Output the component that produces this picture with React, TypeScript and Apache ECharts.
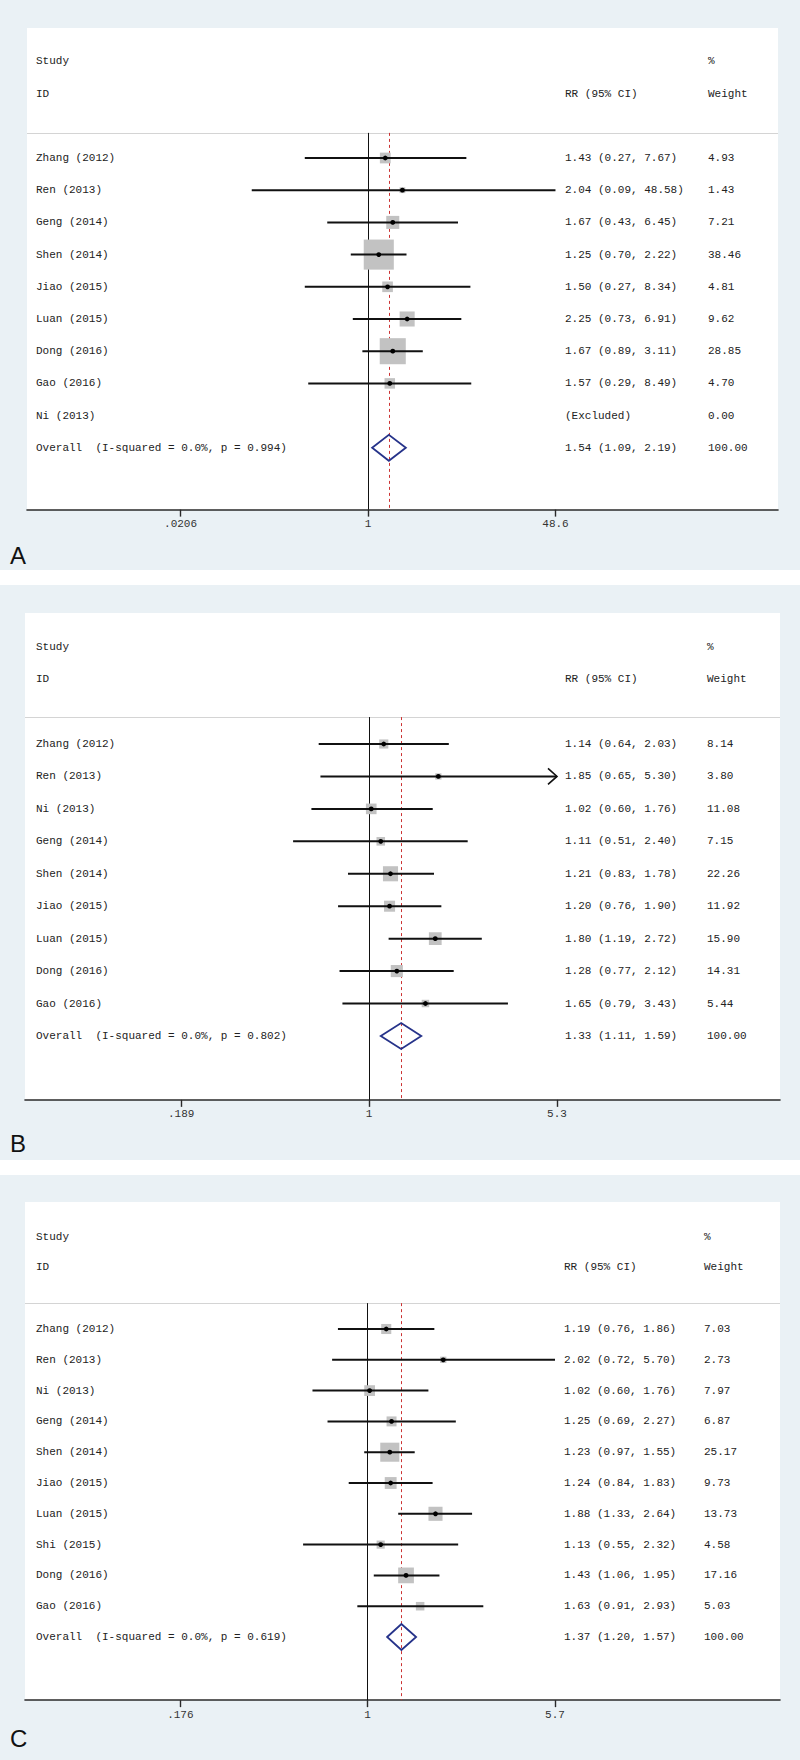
import React, { useEffect, useRef } from "react";
import * as echarts from "echarts";

// ---------- DATA ----------
const STUDIES_A = ["Zhang (2012)", "Ren (2013)", "Geng (2014)", "Shen (2014)", "Jiao (2015)", "Luan (2015)", "Dong (2016)", "Gao (2016)", "Ni (2013)"];
const RR_A = [1.43, 2.04, 1.67, 1.25, 1.5, 2.25, 1.67, 1.57, null];
const LO_A = [0.27, 0.09, 0.43, 0.7, 0.27, 0.73, 0.89, 0.29, null];
const HI_A = [7.67, 48.58, 6.45, 2.22, 8.34, 6.91, 3.11, 8.49, null];
const WT_A = [4.93, 1.43, 7.21, 38.46, 4.81, 9.62, 28.85, 4.7, 0.0];
const OVERALL_A = [1.54, 1.09, 2.19, 100.0];
const HET_A = "Overall  (I-squared = 0.0%, p = 0.994)";
const TICKS_A = [0.0206, 1, 48.6];
const TICK_LABELS_A = [".0206", "1", "48.6"];
const ARROWS_A: string[] = [];

const STUDIES_B = ["Zhang (2012)", "Ren (2013)", "Ni (2013)", "Geng (2014)", "Shen (2014)", "Jiao (2015)", "Luan (2015)", "Dong (2016)", "Gao (2016)"];
const RR_B = [1.14, 1.85, 1.02, 1.11, 1.21, 1.2, 1.8, 1.28, 1.65];
const LO_B = [0.64, 0.65, 0.6, 0.51, 0.83, 0.76, 1.19, 0.77, 0.79];
const HI_B = [2.03, 5.3, 1.76, 2.4, 1.78, 1.9, 2.72, 2.12, 3.43];
const WT_B = [8.14, 3.8, 11.08, 7.15, 22.26, 11.92, 15.9, 14.31, 5.44];
const OVERALL_B = [1.33, 1.11, 1.59, 100.0];
const HET_B = "Overall  (I-squared = 0.0%, p = 0.802)";
const TICKS_B = [0.189, 1, 5.3];
const TICK_LABELS_B = [".189", "1", "5.3"];
const ARROWS_B = ["Ren (2013)"];

const STUDIES_C = ["Zhang (2012)", "Ren (2013)", "Ni (2013)", "Geng (2014)", "Shen (2014)", "Jiao (2015)", "Luan (2015)", "Shi (2015)", "Dong (2016)", "Gao (2016)"];
const RR_C = [1.19, 2.02, 1.02, 1.25, 1.23, 1.24, 1.88, 1.13, 1.43, 1.63];
const LO_C = [0.76, 0.72, 0.6, 0.69, 0.97, 0.84, 1.33, 0.55, 1.06, 0.91];
const HI_C = [1.86, 5.7, 1.76, 2.27, 1.55, 1.83, 2.64, 2.32, 1.95, 2.93];
const WT_C = [7.03, 2.73, 7.97, 6.87, 25.17, 9.73, 13.73, 4.58, 17.16, 5.03];
const OVERALL_C = [1.37, 1.2, 1.57, 100.0];
const HET_C = "Overall  (I-squared = 0.0%, p = 0.619)";
const TICKS_C = [0.176, 1, 5.7];
const TICK_LABELS_C = [".176", "1", "5.7"];
const ARROWS_C: string[] = [];

// ---------- LAYOUT ----------
const FONT = '"Liberation Mono", "DejaVu Sans Mono", monospace';
const BG = "#eaf1f5";

const PANELS = [
  {
    name: "A", studies: STUDIES_A, rr: RR_A, lo: LO_A, hi: HI_A, wt: WT_A, overall: OVERALL_A, het: HET_A,
    ticks: TICKS_A, tickLabels: TICK_LABELS_A, arrows: ARROWS_A,
    bgTop: 0, bgBottom: 570, white: [27, 28, 751, 482], firstRowY: 158, rowStep: 32.2, yMin: -0.78, yMax: 10.92,
    nullX: 368, halfSpan: 187.5, gridLeft: 27, gridRight: 778, rrX: 565, wtX: 708, boxK: 4.85, labelY: 555,
  },
  {
    name: "B", studies: STUDIES_B, rr: RR_B, lo: LO_B, hi: HI_B, wt: WT_B, overall: OVERALL_B, het: HET_B,
    ticks: TICKS_B, tickLabels: TICK_LABELS_B, arrows: ARROWS_B,
    bgTop: 585, bgBottom: 1160, white: [25, 613, 755, 487], firstRowY: 744, rowStep: 32.44, yMin: -0.83, yMax: 10.97,
    nullX: 369, halfSpan: 188, gridLeft: 25, gridRight: 780, rrX: 565, wtX: 707, boxK: 3.2, labelY: 1143,
  },
  {
    name: "C", studies: STUDIES_C, rr: RR_C, lo: LO_C, hi: HI_C, wt: WT_C, overall: OVERALL_C, het: HET_C,
    ticks: TICKS_C, tickLabels: TICK_LABELS_C, arrows: ARROWS_C,
    bgTop: 1175, bgBottom: 1760, white: [25, 1202, 755, 498], firstRowY: 1329, rowStep: 30.8, yMin: -0.84, yMax: 12.05,
    nullX: 367.5, halfSpan: 187.5, gridLeft: 25, gridRight: 780, rrX: 564, wtX: 704, boxK: 3.8, labelY: 1738,
  },
];

const f2 = (v: number) => v.toFixed(2);

function buildOption() {
  const grid: any[] = [];
  const xAxis: any[] = [];
  const yAxis: any[] = [];
  const series: any[] = [];
  const graphic: any[] = [];

  PANELS.forEach((p, i) => {
    const lnMin = Math.log(p.ticks[0]);
    const lnMax = Math.log(p.ticks[2]);
    const k = p.halfSpan / lnMax;
    const xmin = (p.gridLeft - p.nullX) / k;
    const xmax = (p.gridRight - p.nullX) / k;
    const top = p.firstRowY + p.yMin * p.rowStep;
    const height = (p.yMax - p.yMin) * p.rowStep;
    const tickLn = p.ticks.map((t) => Math.log(t));

    grid.push({ left: p.gridLeft, width: p.gridRight - p.gridLeft, top, height, containLabel: false });
    xAxis.push({
      gridIndex: i, type: "value", min: xmin, max: xmax,
      axisLine: { show: true, onZero: false, lineStyle: { color: "#2a2a2a", width: 1.6 } },
      axisTick: { show: true, customValues: tickLn, length: 7, lineStyle: { color: "#2a2a2a", width: 1.4 } },
      axisLabel: {
        show: true, customValues: tickLn, margin: 9, fontFamily: FONT, fontSize: 11, color: "#333",
        formatter: (v: number) => {
          let best = 0;
          tickLn.forEach((t, j) => { if (Math.abs(t - v) < Math.abs(tickLn[best] - v)) best = j; });
          return p.tickLabels[best];
        },
      },
      splitLine: { show: false },
    });
    yAxis.push({ gridIndex: i, type: "value", inverse: true, min: p.yMin, max: p.yMax, show: false });

    // reference lines
    series.push({
      type: "line", xAxisIndex: i, yAxisIndex: i, data: [[0, p.yMin]], showSymbol: false, silent: true,
      lineStyle: { opacity: 0 },
      markLine: {
        symbol: ["none", "none"], silent: true, label: { show: false }, animation: false,
        data: [
          { yAxis: p.yMin, lineStyle: { color: "#d4d4d4", width: 1, type: "solid" } },
          { xAxis: 0, lineStyle: { color: "#111", width: 1, type: "solid" } },
          { xAxis: Math.log(p.overall[0]), lineStyle: { color: "#cc3333", width: 1, type: [3, 3] } },
        ],
      },
    });

    // studies
    const studyData: number[][] = [];
    p.studies.forEach((s, r) => {
      const rr = p.rr[r];
      if (rr == null) return;
      studyData.push([Math.log(rr), r, Math.log(p.lo[r] as number), Math.log(p.hi[r] as number), p.wt[r], p.arrows.includes(s) ? 1 : 0]);
    });
    series.push({
      type: "custom", xAxisIndex: i, yAxisIndex: i, data: studyData, clip: false, silent: true, z: 5,
      renderItem: (_params: any, api: any) => {
        const row = api.value(1);
        const c = api.coord([api.value(0), row]);
        const a = api.coord([Math.max(api.value(2), lnMin), row]);
        const b = api.coord([Math.min(api.value(3), lnMax), row]);
        const side = p.boxK * Math.sqrt(api.value(4));
        const children: any[] = [
          { type: "rect", shape: { x: c[0] - side / 2, y: c[1] - side / 2, width: side, height: side }, style: { fill: "#c2c2c2" } },
          { type: "line", shape: { x1: a[0], y1: a[1], x2: b[0], y2: b[1] }, style: { stroke: "#111", lineWidth: 2 } },
          { type: "circle", shape: { cx: c[0], cy: c[1], r: 2.4 }, style: { fill: "#000" } },
        ];
        if (api.value(5)) {
          children.push({
            type: "polyline",
            shape: { points: [[b[0] - 9, b[1] - 8], [b[0], b[1]], [b[0] - 9, b[1] + 8]] },
            style: { stroke: "#111", lineWidth: 1.6, fill: "none" },
          });
        }
        return { type: "group", children };
      },
    });

    // overall diamond
    const ovRow = p.studies.length;
    series.push({
      type: "custom", xAxisIndex: i, yAxisIndex: i, clip: false, silent: true, z: 6,
      data: [[Math.log(p.overall[0]), ovRow, Math.log(p.overall[1]), Math.log(p.overall[2])]],
      renderItem: (_params: any, api: any) => {
        const row = api.value(1);
        const c = api.coord([api.value(0), row]);
        const a = api.coord([api.value(2), row]);
        const b = api.coord([api.value(3), row]);
        const h = 13;
        return {
          type: "polygon",
          shape: { points: [[a[0], a[1]], [c[0], c[1] - h], [b[0], b[1]], [c[0], c[1] + h]] },
          style: { stroke: "#26338a", lineWidth: 1.8, fill: "none" },
        };
      },
    });

    // text table
    const textRows: string[][] = [["Study", "", "%"], ["ID", "RR (95% CI)", "Weight"]];
    const textData: number[][] = [[-3], [-2]];
    p.studies.forEach((s, r) => {
      const rr = p.rr[r];
      const ci = rr == null ? "(Excluded)" : `${f2(rr)} (${f2(p.lo[r] as number)}, ${f2(p.hi[r] as number)})`;
      textRows.push([s, ci, f2(p.wt[r])]);
      textData.push([r]);
    });
    textRows.push([p.het, `${f2(p.overall[0])} (${f2(p.overall[1])}, ${f2(p.overall[2])})`, f2(p.overall[3])]);
    textData.push([ovRow]);
    series.push({
      type: "custom", xAxisIndex: i, yAxisIndex: i, clip: false, silent: true, z: 7,
      encode: { y: 0 },
      data: textData,
      renderItem: (params: any, api: any) => {
        const row = api.value(0);
        const y = api.coord([0, row])[1];
        const t = textRows[params.dataIndex];
        const xs = [36, p.rrX, p.wtX];
        return {
          type: "group",
          children: t.map((txt, j) => ({
            type: "text", x: xs[j], y,
            style: { text: txt, fontFamily: FONT, fontSize: 11, fill: "#222", align: "left", verticalAlign: "middle" },
          })),
        };
      },
    });

    // backgrounds + panel label
    graphic.push({ type: "rect", z: -100, shape: { x: 0, y: p.bgTop, width: 800, height: p.bgBottom - p.bgTop }, style: { fill: BG } });
    graphic.push({ type: "rect", z: -99, shape: { x: p.white[0], y: p.white[1], width: p.white[2], height: p.white[3] }, style: { fill: "#ffffff" } });
    graphic.push({
      type: "text", z: 10, x: 10, y: p.labelY,
      style: { text: p.name, fontFamily: '"Liberation Sans", Arial, sans-serif', fontSize: 24, fill: "#111", verticalAlign: "middle" },
    });
  });

  return { animation: false, backgroundColor: "#ffffff", grid, xAxis, yAxis, series, graphic };
}

export default function App() {
  const ref = useRef<HTMLDivElement>(null);
  useEffect(() => {
    if (!ref.current) return;
    const chart = echarts.init(ref.current, null, { renderer: "svg" });
    chart.setOption(buildOption() as any);
    return () => chart.dispose();
  }, []);
  return <div ref={ref} style={{ position: "absolute", left: 0, top: 0, width: 800, height: 1760 }} />;
}
